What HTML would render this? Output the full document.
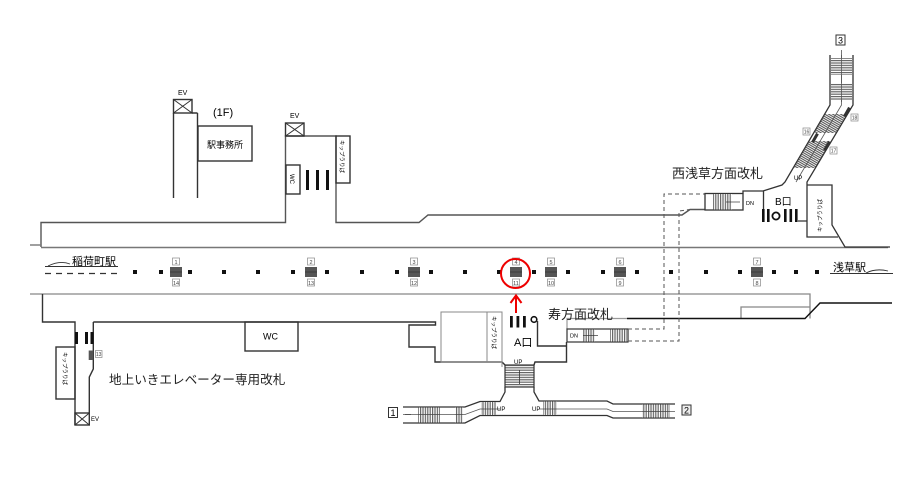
<!DOCTYPE html>
<html><head><meta charset="utf-8"><style>
html,body{margin:0;padding:0;background:#fff;}
svg{display:block;}
text{font-family:"Liberation Sans","Noto Sans CJK JP",sans-serif;}
</style></head><body>
<svg width="919" height="491" viewBox="0 0 919 491" xmlns="http://www.w3.org/2000/svg">
<defs>
<pattern id="vh" width="2.4" height="10" patternUnits="userSpaceOnUse"><rect width="2.4" height="10" fill="#fff"/><rect width="1.2" height="10" fill="#666"/></pattern>
<pattern id="hh" width="10" height="2.4" patternUnits="userSpaceOnUse"><rect width="10" height="2.4" fill="#fff"/><rect width="10" height="1.2" fill="#666"/></pattern>
<pattern id="dh" width="10" height="2" patternUnits="userSpaceOnUse" patternTransform="rotate(30)"><rect width="10" height="2" fill="#fff"/><rect width="10" height="1.1" fill="#555"/></pattern>
</defs>

<g fill="none" stroke="#333" stroke-width="1.4">
<path d="M41,247 V222.5 H285.5 V136 H336 V222.5 H419 L428,215 H682 L690,209.5 H705" stroke="#555"/>
<path d="M30,245 H41" stroke="#777"/>
<path d="M173.5,113 V198 M197.5,113 V198 M192,113 H197.5"/>
<rect x="173.5" y="99.5" width="18.5" height="13.5"/>
<path d="M173.5,99.5 L192,113 M192,99.5 L173.5,113" stroke-width="1"/>
<rect x="198" y="126" width="54" height="35"/>
<rect x="285.5" y="123" width="18.5" height="13"/>
<path d="M285.5,123 L304,136 M304,123 L285.5,136" stroke-width="1"/>
<rect x="336" y="136" width="14" height="47"/>
<rect x="286" y="165" width="14" height="29"/>
</g>
<g fill="#111">
<rect x="306" y="170" width="3" height="20"/>
<rect x="316" y="170" width="3" height="20"/>
<rect x="326" y="170" width="3" height="20"/>
</g>
<text x="178" y="95" font-size="7">EV</text>
<text x="290" y="118" font-size="7">EV</text>
<text x="213" y="116" font-size="11">(1F)</text>
<text x="207" y="148" font-size="9">駅事務所</text>
<text transform="translate(340,140) rotate(90)" font-size="5.5">キップうりば</text>
<text transform="translate(290,174) rotate(90)" font-size="6">WC</text>

<!-- platform -->
<path d="M41,247.5 H888" stroke="#777" stroke-width="1.4" fill="none"/>
<path d="M30,294 H810 V318.5 M741,318.5 V307 H810" stroke="#888" stroke-width="1.3" fill="none"/>
<text x="72" y="265" font-size="11">稲荷町駅</text>
<path d="M45,266.5 H118 M48,266 Q60,260 70,264" stroke="#333" stroke-width="0.9" fill="none"/>
<path d="M45,273.5 H118" stroke="#333" stroke-width="1.2" stroke-dasharray="6,5" fill="none"/>
<text x="833" y="271" font-size="11">浅草駅</text>
<path d="M830,273.5 H893 M866,273 Q876,268 888,271" stroke="#333" stroke-width="0.9" fill="none"/>

<g fill="#111">
<rect x="133" y="270" width="4" height="4"/><rect x="159" y="270" width="4" height="4"/>
<rect x="188" y="270" width="4" height="4"/><rect x="222" y="270" width="4" height="4"/>
<rect x="256" y="270" width="4" height="4"/><rect x="291" y="270" width="4" height="4"/>
<rect x="325" y="270" width="4" height="4"/><rect x="360" y="270" width="4" height="4"/>
<rect x="395" y="270" width="4" height="4"/><rect x="429" y="270" width="4" height="4"/>
<rect x="463" y="270" width="4" height="4"/><rect x="497" y="270" width="4" height="4"/>
<rect x="532" y="270" width="4" height="4"/><rect x="566" y="270" width="4" height="4"/>
<rect x="601" y="270" width="4" height="4"/><rect x="635" y="270" width="4" height="4"/>
<rect x="669" y="270" width="4" height="4"/><rect x="704" y="270" width="4" height="4"/>
<rect x="738" y="270" width="4" height="4"/><rect x="772" y="270" width="4" height="4"/>
<rect x="794" y="270" width="4" height="4"/><rect x="815" y="270" width="4" height="4"/>
</g>
<g>
<rect x="170" y="267" width="12" height="10" fill="#555"/><rect x="305" y="267" width="12" height="10" fill="#555"/>
<rect x="408" y="267" width="12" height="10" fill="#555"/><rect x="510" y="267" width="12" height="10" fill="#555"/>
<rect x="545" y="267" width="12" height="10" fill="#555"/><rect x="614" y="267" width="12" height="10" fill="#555"/>
<rect x="751" y="267" width="12" height="10" fill="#555"/>
<path d="M170,272 H182 M305,272 H317 M408,272 H420 M510,272 H522 M545,272 H557 M614,272 H626 M751,272 H763" stroke="#333" stroke-width="0.8"/>
</g>
<g fill="#fff" stroke="#888" stroke-width="0.7">
<rect x="172.5" y="258" width="7" height="7"/><rect x="172.5" y="279" width="7" height="7"/>
<rect x="307.5" y="258" width="7" height="7"/><rect x="307.5" y="279" width="7" height="7"/>
<rect x="410.5" y="258" width="7" height="7"/><rect x="410.5" y="279" width="7" height="7"/>
<rect x="512.5" y="258" width="7" height="7"/><rect x="512.5" y="279" width="7" height="7"/>
<rect x="547.5" y="258" width="7" height="7"/><rect x="547.5" y="279" width="7" height="7"/>
<rect x="616.5" y="258" width="7" height="7"/><rect x="616.5" y="279" width="7" height="7"/>
<rect x="753.5" y="258" width="7" height="7"/><rect x="753.5" y="279" width="7" height="7"/>
</g>
<g font-size="5.5" fill="#444" text-anchor="middle">
<text x="176" y="264">1</text><text x="176" y="285">14</text>
<text x="311" y="264">2</text><text x="311" y="285">13</text>
<text x="414" y="264">3</text><text x="414" y="285">12</text>
<text x="516" y="264">4</text><text x="516" y="285">11</text>
<text x="551" y="264">5</text><text x="551" y="285">10</text>
<text x="620" y="264">6</text><text x="620" y="285">9</text>
<text x="757" y="264">7</text><text x="757" y="285">8</text>
</g>

<!-- red marker -->
<circle cx="515.5" cy="273.5" r="14.5" fill="none" stroke="#e00" stroke-width="2"/>
<path d="M516,313 V296 M510.5,303 L516,295.5 L521.5,303" fill="none" stroke="#e00" stroke-width="2"/>

<!-- lower left -->
<g fill="none" stroke="#333" stroke-width="1.4">
<path d="M42.5,294 V322 H75 V425"/>
<path d="M93.3,322 V369 L89.3,377 V413"/>
<path d="M93.3,322 H435.5 V325 H409 V347 H435 V362 H502 L505,365"/>
<rect x="56" y="347" width="19" height="52"/>
<rect x="75" y="413" width="14.3" height="12"/>
<path d="M75,413 L89.3,425 M89.3,413 L75,425" stroke-width="1"/>
<rect x="245" y="322" width="53" height="29"/>
</g>
<g fill="#111">
<rect x="75" y="332" width="3" height="12"/><rect x="85" y="332" width="3" height="12"/><rect x="90.5" y="332" width="3" height="12"/>
</g>
<rect x="88.7" y="350.5" width="4.6" height="9.5" fill="#555"/>
<rect x="95.5" y="350.5" width="6.5" height="7" fill="#fff" stroke="#888" stroke-width="0.7"/>
<text x="98.7" y="356" font-size="5" text-anchor="middle" fill="#444">13</text>
<text transform="translate(63,352) rotate(90)" font-size="5.5">キップうりば</text>
<text x="91" y="421" font-size="6">EV</text>
<text x="263" y="339.5" font-size="9">WC</text>
<text x="109" y="384" font-size="12.6" fill="#222">地上いきエレベーター専用改札</text>

<!-- A exit area -->
<g fill="none" stroke="#888" stroke-width="1">
<rect x="441" y="312" width="61" height="50"/>
<path d="M487,312 V362 M502,362 V367"/>
</g>
<text transform="translate(492,316) rotate(90)" font-size="5.5">キップうりば</text>
<g fill="#111">
<rect x="510" y="316" width="2.8" height="11.5"/><rect x="516.5" y="316" width="2.8" height="11.5"/><rect x="523" y="316" width="2.8" height="11.5"/>
</g>
<circle cx="534" cy="319.5" r="2.8" fill="none" stroke="#111" stroke-width="1.6"/>
<text x="514" y="346" font-size="11">A口</text>
<text x="514" y="364" font-size="6">UP</text>
<g fill="none" stroke="#333" stroke-width="1.4">
<path d="M537.5,321 V346 H566.5 M566.5,342 V362 H535 L534,365"/>
</g>
<path d="M567,329 V318.5 H627" fill="none" stroke="#999" stroke-width="1.2"/>
<path d="M627,318.5 H805 L820,303 H892" fill="none" stroke="#111" stroke-width="1.4"/>
<text x="548" y="319" font-size="13" fill="#222">寿方面改札</text>
<rect x="567" y="329" width="61" height="13" fill="#fff" stroke="#333" stroke-width="1.2"/>
<rect x="583" y="329.5" width="12" height="12" fill="url(#vh)"/>
<rect x="610" y="329.5" width="17" height="12" fill="url(#vh)"/>
<path d="M583,335.5 H598" stroke="#333" stroke-width="0.7"/>
<text x="570" y="337.5" font-size="5.5">DN</text>
<g fill="none" stroke="#555" stroke-width="1" stroke-dasharray="4,3">
<path d="M628,329 H664 V194 H705"/>
<path d="M628,341 H679 V211 L690,209.5"/>
</g>

<!-- center escalator -->
<rect x="505" y="365" width="29" height="22" fill="url(#hh)" stroke="#333" stroke-width="1.2"/>
<path d="M519.5,370 V384" stroke="#333" stroke-width="0.8"/>

<!-- corridors -->
<g fill="none" stroke="#333" stroke-width="1.3">
<path d="M403,407 H465 L480,401.5 H500 L505,392 V387"/>
<path d="M403,423 H465 L480,415.5 H607 L613,418 H675"/>
<path d="M534,387 V392 L539,401 H607 L613,404 H675"/>
</g>
<g fill="none" stroke="#555" stroke-width="0.8">
<path d="M403,414.5 H465 L480,409 H500"/>
<path d="M539,409 H607 L613,411.5 H675"/>
</g>
<rect x="418" y="407.5" width="22" height="15" fill="url(#vh)"/>
<rect x="455" y="407.5" width="8" height="15" fill="url(#vh)"/>
<rect x="481" y="402" width="15" height="13" fill="url(#vh)"/>
<rect x="543" y="401.5" width="14" height="13.5" fill="url(#vh)"/>
<rect x="642" y="404.5" width="28" height="13" fill="url(#vh)"/>
<path d="M418,414.5 H440 M455,414.5 H463 M481,409 H496 M543,409 H557 M642,411.5 H670 M405,414.5 H411" stroke="#444" stroke-width="0.8"/>
<text x="497" y="411" font-size="6">UP</text>
<text x="532" y="411" font-size="6">UP</text>
<rect x="388.5" y="407.5" width="9" height="10" fill="#fff" stroke="#333" stroke-width="1"/>
<text x="393" y="416" font-size="9" text-anchor="middle">1</text>
<rect x="682" y="405" width="9" height="10" fill="#eee" stroke="#333" stroke-width="1"/>
<text x="686.5" y="413.5" font-size="9" text-anchor="middle">2</text>

<!-- B exit area -->
<text x="672" y="178" font-size="13" fill="#222">西浅草方面改札</text>
<rect x="705" y="193.5" width="38" height="16.5" fill="#fff" stroke="#333" stroke-width="1.3"/>
<rect x="713" y="194" width="19" height="15.5" fill="url(#vh)"/>
<path d="M726,202 H740" stroke="#333" stroke-width="0.7"/>
<text x="746" y="205" font-size="5.5">DN</text>
<polygon points="814,133 836,133 847,114 825,114" fill="url(#dh)"/>
<polygon points="793,168 815,168 831,141 809,141" fill="url(#dh)"/>
<g fill="none" stroke="#333" stroke-width="1.3">
<path d="M743,193.5 V191 H763 L782,185 L785,182 L830,105 V55"/>
<path d="M853,55 V105 L807,182 V237 H838"/>
<path d="M807,185 H832 V225 L845,247 H890"/>
<path d="M763.5,191 V212 M798,221 H807"/>
</g>
<path d="M796,182 L841.5,105 V50" stroke="#555" stroke-width="0.8" fill="none"/>
<rect x="831" y="58" width="21" height="17" fill="url(#hh)"/>
<rect x="831" y="83" width="21" height="17" fill="url(#hh)"/>
<path d="M841.5,55 V102" stroke="#555" stroke-width="0.8"/>
<g fill="#333">
<rect x="-1.5" y="-5" width="3" height="10" transform="translate(847,112) rotate(30)"/>
<rect x="-1.5" y="-5" width="3" height="10" transform="translate(815,138) rotate(30)"/>
<rect x="-1.5" y="-5" width="3" height="10" transform="translate(827,146) rotate(30)"/>
</g>
<g fill="#fff" stroke="#888" stroke-width="0.7">
<rect x="851" y="114" width="7" height="7"/>
<rect x="803" y="128" width="7" height="7"/>
<rect x="830" y="147" width="7" height="7"/>
</g>
<g font-size="5" fill="#444" text-anchor="middle">
<text x="854.5" y="119.5">18</text><text x="806.5" y="133.5">16</text><text x="833.5" y="152.5">17</text>
</g>
<text x="794" y="180" font-size="6">UP</text>
<rect x="836" y="35" width="9" height="10" fill="#fff" stroke="#333" stroke-width="1"/>
<text x="840.5" y="43.5" font-size="9" text-anchor="middle">3</text>
<g fill="#111">
<rect x="762" y="209" width="2.6" height="13"/><rect x="767" y="209" width="2.6" height="13"/>
<rect x="784" y="209" width="2.6" height="13"/><rect x="789.5" y="209" width="2.6" height="13"/><rect x="795" y="209" width="2.6" height="13"/>
</g>
<circle cx="776" cy="216" r="3.6" fill="none" stroke="#111" stroke-width="1.8"/>
<text x="775" y="205" font-size="10">B口</text>
<text transform="translate(822,232) rotate(-90)" font-size="5.5">キップうりば</text>
</svg>
</body></html>
